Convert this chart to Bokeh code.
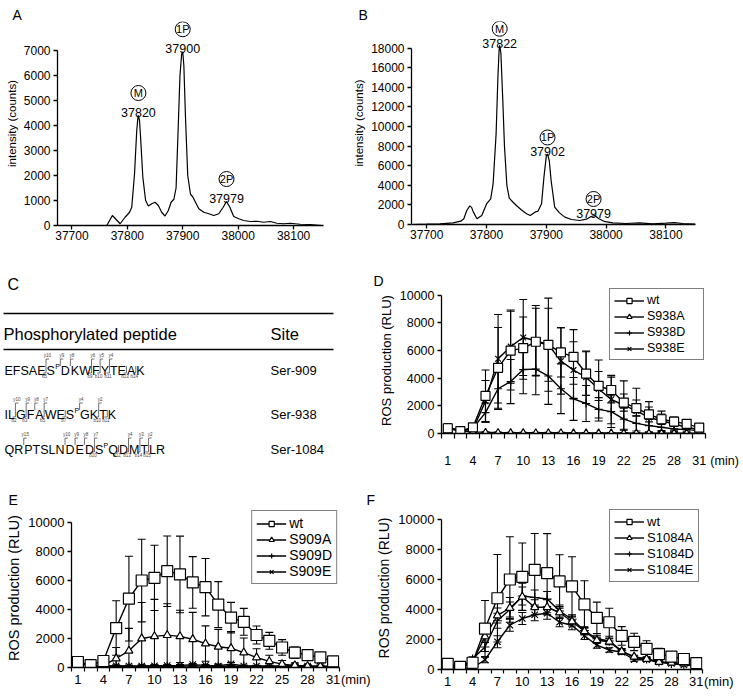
from bokeh.plotting import figure
from bokeh.layouts import column, row
from bokeh.models import Range1d, FixedTicker, SingleIntervalTicker, Legend, LegendItem
from bokeh.core.properties import value
from bokeh.embed import file_html
from bokeh.resources import INLINE

FONT = "Liberation Sans"

# ---------------- Panel A / B : deconvoluted mass spectra ----------------
massA = [37763, 37773, 37787, 37796, 37804, 37808, 37813, 37817, 37819, 37820, 37822, 37824, 37828, 37833,
         37838, 37844, 37850, 37856, 37862, 37868, 37874, 37879, 37884, 37888, 37891, 37895, 37898, 37900,
         37902, 37905, 37909, 37914, 37918, 37923, 37929, 37938, 37947, 37956, 37965, 37973, 37979, 37985,
         37992, 38001, 38010, 38022, 38034, 38046, 38058, 38070, 38082, 38094, 38112, 38130, 38151]
countsA = [0, 400, 70, 330, 530, 730, 2070, 3800, 4300, 4400, 4200, 3500, 1930, 1000,
           780, 870, 930, 800, 530, 380, 600, 930, 1050, 1500, 3400, 6000, 6850, 6950,
           6400, 4300, 2000, 1250, 1150, 930, 670, 530, 470, 400, 470, 730, 960, 730,
           360, 270, 200, 160, 170, 130, 160, 90, 70, 90, 50, 40, 0]
peakA_mass = [37820, 37900, 37979]
peakA_height = [4400, 6950, 960]
peakA_label = ["37820", "37900", "37979"]

massB = [37675, 37700, 37722, 37744, 37757, 37762, 37767, 37772, 37775, 37778, 37784, 37792, 37800, 37807,
         37811, 37816, 37819, 37821, 37822, 37824, 37827, 37830, 37834, 37838, 37844, 37850, 37858, 37867,
         37873, 37881, 37886, 37892, 37896, 37900, 37902, 37905, 37908, 37914, 37922, 37931, 37942, 37956,
         37967, 37975, 37981, 37988, 37997, 38011, 38033, 38056, 38078, 38100, 38114, 38128, 38149]
countsB = [0, 30, 70, 170, 340, 580, 1430, 1900, 1750, 1260, 580, 920, 2100, 2620,
           4150, 9250, 15000, 17800, 18300, 17500, 13000, 8000, 4000, 2700, 2300, 1940, 1500, 1090,
           920, 1260, 1360, 2110, 4830, 7000, 7200, 6500, 4490, 1770, 1190, 750, 510, 410,
           540, 820, 920, 580, 310, 170, 100, 170, 70, 140, 200, 100, 30]
peakB_mass = [37822, 37902, 37979]
peakB_height = [18300, 7200, 920]
peakB_label = ["37822", "37902", "37979"]

peak_tags = ["M", "1P", "2P"]
panel_letters = ["A", "B", "C", "D", "E", "F"]

# ---------------- Panel C : peptides ----------------
peptides = ["EFSAESDKWFYTEAK", "ILGFAWESGKTK", "QRPTSLNDEDSQDMTLR"]
phospho_pos = [6, 8, 11]
y_ions = [[10, 9, 8, 6, 5, 4], [10, 9, 8, 7, 4, 2], [15, 10, 9, 8, 7, 4, 3, 2]]
b_ions = [[5, 9, 10, 11, 13, 14], [2, 3, 5, 7, 10, 11], [10, 12, 13, 14, 15]]
sites = ["Ser-909", "Ser-938", "Ser-1084"]

# ---------------- Panels D/E/F : ROS production ----------------
times = [1, 2.5, 4, 5.5, 7, 8.5, 10, 11.5, 13, 14.5, 16, 17.5, 19, 20.5, 22, 23.5, 25, 26.5, 28, 29.5, 31]
tick_times = [1, 4, 7, 10, 13, 16, 19, 22, 25, 28, 31]

wt = [380, 170, 450, 2720, 4750, 6000, 6180, 6640, 6420, 5870, 5540, 4340, 3440, 3150, 2240, 1840, 1380, 1030, 860, 700, 420]
wt_err = [250, 60, 120, 1880, 2920, 2850, 2250, 2430, 2640, 1780, 1980, 1580, 1050, 930, 620, 580, 540, 380, 250, 180, 80]

s938a = [420, 180, 120, 90, 70, 60, 60, 50, 50, 50, 40, 40, 40, 40, 40, 30, 30, 30, 30, 30, 30]
s938a_err = [300, 60, 40, 40, 40, 30, 30, 30, 30, 30, 20, 20, 20, 20, 20, 20, 20, 20, 20, 20, 20]
s938d = [450, 210, 380, 1510, 3240, 3760, 4630, 4660, 4160, 3240, 2500, 2170, 1750, 1580, 1040, 730, 570, 450, 330, 280, 210]
s938d_err = [200, 60, 100, 700, 1500, 1600, 1750, 1850, 2050, 1800, 1550, 1300, 850, 1150, 800, 550, 450, 300, 200, 150, 100]
s938e = [400, 200, 300, 2340, 5410, 6290, 6950, 6710, 6430, 5250, 4590, 4070, 3220, 2460, 2060, 1630, 1160, 920, 690, 450, 280]
s938e_err = [200, 60, 120, 1500, 3200, 2650, 2750, 2550, 3370, 2400, 2050, 1900, 2100, 1750, 1750, 1650, 1150, 700, 500, 450, 300]

s909a = [300, 150, 150, 620, 1150, 2000, 2150, 2230, 2150, 1950, 1650, 1430, 1330, 1030, 690, 420, 230, 150, 100, 90, 80]
s909a_err = [100, 50, 80, 760, 1550, 2480, 2550, 2170, 1800, 1850, 1220, 1200, 1150, 1000, 600, 420, 250, 150, 100, 80, 60]
s909d = [300, 100, 80, 80, 70, 80, 80, 80, 80, 120, 80, 80, 100, 80, 70, 60, 60, 60, 50, 50, 50]
s909d_err = [150, 50, 40, 60, 80, 100, 100, 100, 100, 100, 80, 80, 100, 80, 60, 50, 50, 50, 40, 40, 40]
s909e = [320, 120, 100, 120, 100, 100, 120, 130, 150, 200, 150, 100, 250, 100, 100, 100, 100, 150, 100, 80, 80]
s909e_err = [120, 50, 40, 60, 60, 60, 60, 60, 60, 80, 60, 60, 100, 60, 50, 50, 50, 60, 40, 40, 40]

s1084a = [250, 100, 500, 2200, 3600, 4100, 4850, 4150, 4150, 3800, 3200, 2550, 1950, 1850, 1200, 850, 700, 500, 450, 400, 300]
s1084a_err = [80, 40, 100, 300, 500, 700, 900, 500, 500, 400, 300, 250, 200, 200, 150, 100, 80, 60, 50, 50, 40]
s1084d = [250, 100, 700, 1500, 3250, 4000, 4900, 4800, 4700, 3900, 3350, 2600, 2050, 1900, 1250, 800, 700, 500, 400, 350, 300]
s1084d_err = [80, 40, 150, 300, 500, 500, 600, 500, 500, 400, 300, 250, 200, 200, 150, 100, 80, 60, 50, 50, 40]
s1084e = [200, 80, 100, 650, 1850, 2950, 3400, 3650, 3750, 3150, 2950, 2250, 1620, 1300, 1150, 650, 650, 500, 400, 300, 250]
s1084e_err = [60, 30, 40, 200, 400, 400, 400, 400, 400, 300, 300, 250, 200, 150, 150, 100, 80, 60, 50, 50, 40]

# Arial / Liberation Sans advance widths (per 1000 em) for peptide layout
AW = {'A': 667, 'C': 722, 'D': 722, 'E': 667, 'F': 611, 'G': 778, 'H': 722, 'I': 278, 'K': 667, 'L': 556,
      'M': 833, 'N': 722, 'P': 667, 'Q': 778, 'R': 722, 'S': 667, 'T': 611, 'V': 667, 'W': 944, 'Y': 667}
NBSP = "\u00a0"


def base_fig(width, height, left, right, top, bottom, xr, yr):
    p = figure(width=width, height=height, x_range=Range1d(*xr), y_range=Range1d(*yr),
               output_backend="svg", toolbar_location=None, tools="",
               min_border_left=left, min_border_right=right, min_border_top=top, min_border_bottom=bottom)
    p.frame_align = False
    p.xgrid.visible = False
    p.ygrid.visible = False
    p.outline_line_color = None
    p.background_fill_color = "white"
    p.border_fill_color = "white"
    return p


def blank_fig(width, height):
    p = figure(width=width, height=height, x_range=Range1d(0, width), y_range=Range1d(0, height),
               x_axis_type=None, y_axis_type=None, title=None, min_border=0, min_border_left=0,
               min_border_right=0, min_border_top=0, min_border_bottom=0, output_backend="svg",
               toolbar_location=None, tools="")
    p.frame_align = False
    p.outline_line_color = None
    return p


def style_axis(ax, tick_fs, label_fs=None):
    ax.axis_line_color = "black"
    ax.axis_line_width = 1.3
    ax.major_tick_line_color = "black"
    ax.major_tick_line_width = 1.3
    ax.major_tick_in = 0
    ax.major_tick_out = 4
    ax.minor_tick_line_color = None
    ax.major_label_text_font = FONT
    ax.major_label_text_font_size = tick_fs
    ax.major_label_text_color = "black"
    ax.axis_label_text_font = FONT
    ax.axis_label_text_font_style = "normal"
    ax.axis_label_text_color = "black"
    if label_fs:
        ax.axis_label_text_font_size = label_fs


def spectrum(width, height, left, right, top, bottom, xr, y_end, y_top_tick, y_step, mass, counts,
             pk_mass, pk_h, pk_lab, text_off, circ_off):
    p = base_fig(width, height, left, right, top, bottom, xr, (0, y_end))
    p.line(mass, counts, line_color="black", line_width=1.2)
    frame_h = height - top - bottom
    per_px = y_end / frame_h
    circ_y = [h + circ_off * per_px for h in pk_h]
    p.text(x=pk_mass, y=pk_h, text=pk_lab, text_align="center", text_baseline="alphabetic", y_offset=-text_off,
           text_font=value(FONT), text_font_size="12.5px", text_color="black")
    p.scatter(x=pk_mass, y=circ_y, marker="circle", size=15, fill_color=None, line_color="black", line_width=1)
    p.text(x=pk_mass, y=circ_y, text=peak_tags, text_align="center", text_baseline="middle",
           text_font=value(FONT), text_font_size="11px", text_color="black")
    p.xaxis.ticker = SingleIntervalTicker(interval=100, num_minor_ticks=0)
    p.yaxis.ticker = SingleIntervalTicker(interval=y_step, num_minor_ticks=0)
    p.yaxis.bounds = (0, y_top_tick)
    style_axis(p.xaxis[0], "12px")
    style_axis(p.yaxis[0], "12px", "11.5px")
    p.xaxis.major_label_standoff = 1
    p.yaxis.major_label_standoff = 3
    p.yaxis.axis_label = "intensity (counts)"
    p.yaxis.axis_label_standoff = 3
    return p


def letters_fig(width, height, xs, base, texts):
    p = blank_fig(width, height)
    p.text(x=xs, y=[base] * len(xs), text=texts, text_font=value(FONT), text_font_size="14px",
           text_baseline="alphabetic", text_color="black")
    return p


# ---- Row 1 : header with letters (page y 0-21) + spectra (21-265)
hdr1 = letters_fig(743, 21, [12, 358], 7, panel_letters[0:2])
pA = spectrum(350, 244, 57, 27, 0, 40, (37674, 38154), 8160, 7000, 1000, massA, countsA,
              peakA_mass, peakA_height, peakA_label, 3, 22.5)
pB = spectrum(393, 244, 60, 48, 0, 41, (37674.5, 38149.5), 20725, 18000, 2000, massB, countsB,
              peakB_mass, peakB_height, peakB_label, 2, 16.5)

# ---- Panel C  (page x 0-372, y 265-470)
pC = blank_fig(372, 205)
pC.text(x=[7], y=[186], text=[panel_letters[2]], text_font=value(FONT), text_font_size="16px",
        text_baseline="alphabetic")
pC.segment(x0=[3, 3], y0=[157, 121], x1=[333, 333], y1=[157, 121], line_color="black", line_width=1.6)
pC.text(x=[3], y=[137], text=["Phosphorylated peptide"], text_font=value(FONT), text_font_size="16.5px",
        text_baseline="middle")
pC.text(x=[270], y=[137], text=["Site"], text_font=value(FONT), text_font_size="16.5px", text_baseline="middle")

row_base = [100, 56, 21]
fs = 12.5
capH = 0.716 * fs
for seq, phos, yi, bi, site, base in zip(peptides, phospho_pos, y_ions, b_ions, sites, row_base):
    n = len(seq)
    ycut = {n - k: k for k in yi}
    bcut = {k: k for k in bi}
    xs, chars, sup_x = [], [], []
    br_xs, br_ys = [], []
    ylab_x, ylab_t, blab_x, blab_t = [], [], [], []
    cur = 4.0
    top = base + capH + 2.5
    bot = base - 2.5
    for i, ch in enumerate(seq, start=1):
        xs.append(cur)
        chars.append(ch)
        cur += AW[ch] * fs / 1000.0
        if i == phos:
            sup_x.append(cur + 0.3)
            cur += 5.0
        if i in ycut or i in bcut:
            bx = cur + 0.5
            px, py = [], []
            if i in ycut:
                px += [bx + 3, bx]
                py += [top, top]
                ylab_x.append(bx + 1.5)
                ylab_t.append("y%d" % ycut[i])
            else:
                px += [bx]
                py += [base + capH * 0.5]
            if i in bcut:
                px += [bx, bx - 3]
                py += [bot, bot]
                blab_x.append(bx - 1.5)
                blab_t.append("b%d" % bcut[i])
            else:
                px += [bx]
                py += [base + capH * 0.5]
            br_xs.append(px)
            br_ys.append(py)
            cur += 1.0
    pC.text(x=xs, y=[base] * n, text=chars, text_font=value(FONT), text_font_size="%.1fpx" % fs,
            text_baseline="alphabetic", text_align="left", text_color="black")
    pC.text(x=sup_x, y=[base + 4.5] * len(sup_x), text=["P"] * len(sup_x), text_font=value(FONT),
            text_font_size="7px", text_baseline="alphabetic", text_align="left", text_color="black")
    pC.multi_line(xs=br_xs, ys=br_ys, line_color="#333333", line_width=0.7)
    pC.text(x=ylab_x, y=[top + 1] * len(ylab_x), text=ylab_t, text_font=value(FONT), text_font_size="4.5px",
            text_baseline="bottom", text_align="center", text_color="#444444")
    pC.text(x=blab_x, y=[bot - 1] * len(blab_x), text=blab_t, text_font=value(FONT), text_font_size="4.5px",
            text_baseline="top", text_align="center", text_color="#444444")
    pC.text(x=[270], y=[base], text=[site], text_font=value(FONT), text_font_size="13px",
            text_baseline="alphabetic", text_align="left", text_color="black")


# ---------------- ROS panels ----------------
def ros_panel(width, height, left, right, top, bottom, y_end, series, tick_fs, label_fs, leg_fs,
              leg_label_w, leg_spacing, xlab_standoff, minor_out, n_pad, leg_margin):
    xr = (times[0] - 0.75, times[-1] + 0.75)
    p = base_fig(width, height, left, right, top, bottom, xr, (0, y_end))
    for name, y, err, marker, ms, fill in series:
        up = [a + b for a, b in zip(y, err)]
        lo = [a - b for a, b in zip(y, err)]
        p.segment(x0=times, y0=lo, x1=times, y1=up, line_color="black", line_width=1.1)
        p.scatter(x=times + times, y=up + lo, marker="dash", size=8, line_color="black", line_width=1.1)
    items = []
    for name, y, err, marker, ms, fill in reversed(series):
        ln = p.line(times, y, line_color="black", line_width=1.4)
        mk = p.scatter(times, y, marker=marker, size=ms, fill_color=fill, line_color="black", line_width=1.2)
        items.append(LegendItem(label=value(name), renderers=[ln, mk]))
    items.reverse()
    leg = Legend(items=items, location="top_right", border_line_color="black", border_line_width=1.3,
                 background_fill_color="white", background_fill_alpha=1.0,
                 label_text_font=FONT, label_text_font_size=leg_fs, label_text_color="black",
                 glyph_width=30, glyph_height=13, label_height=13, label_width=leg_label_w,
                 label_standoff=3, padding=4, spacing=leg_spacing, margin=leg_margin)
    p.add_layout(leg)
    # time labels plus the "(min)" unit placed just right of the axis end
    p.xaxis.ticker = FixedTicker(ticks=tick_times + [xr[1]],
                                 minor_ticks=[t - 0.75 for t in times] + [times[-1] + 0.75])
    p.xaxis.major_label_overrides = {xr[1]: NBSP * n_pad + "(min)"}
    p.yaxis.ticker = SingleIntervalTicker(interval=2000, num_minor_ticks=0)
    p.yaxis.bounds = (0, 10000)
    style_axis(p.xaxis[0], tick_fs)
    style_axis(p.yaxis[0], tick_fs, label_fs)
    p.xaxis.major_tick_line_color = None
    p.xaxis.major_tick_out = 0
    p.xaxis.minor_tick_line_color = "black"
    p.xaxis.minor_tick_line_width = 1.2
    p.xaxis.minor_tick_in = 0
    p.xaxis.minor_tick_out = minor_out
    p.xaxis.major_label_standoff = xlab_standoff
    p.yaxis.major_label_standoff = 3
    p.yaxis.axis_label = "ROS production (RLU)"
    p.yaxis.axis_label_standoff = 3
    return p


# ---- Row 2 right : header D (page y 265-287) + chart D (287-470), page x 372-743
hdrD = letters_fig(371, 22, [1], 7, [panel_letters[3]])
pD = ros_panel(371, 183, 69, 38, 0, 34, 10567,
               [("wt", wt, wt_err, "square", 9, "white"),
                ("S938A", s938a, s938a_err, "triangle", 7, "white"),
                ("S938D", s938d, s938d_err, "cross", 8, "black"),
                ("S938E", s938e, s938e_err, "x", 8, "black")],
               "12.5px", "13px", "12.5px", 52, 2, 15, 5, 11, 1)

# ---- Row 3 : header with E, F (page y 470-506) + charts (506-700)
hdr3 = letters_fig(743, 36, [8, 366], 7, panel_letters[4:6])
pE = ros_panel(372, 194, 71, 33, 2, 33, 10966,
               [("wt", wt, wt_err, "square", 11, "white"),
                ("S909A", s909a, s909a_err, "triangle", 8, "white"),
                ("S909D", s909d, s909d_err, "cross", 9, "black"),
                ("S909E", s909e, s909e_err, "x", 9, "black")],
               "13px", "14.5px", "14px", 40, 0, 0, 4, 9, 2)
pF = ros_panel(371, 194, 69, 41, 0, 31, 10867,
               [("wt", wt, wt_err, "square", 11, "white"),
                ("S1084A", s1084a, s1084a_err, "triangle", 8, "white"),
                ("S1084D", s1084d, s1084d_err, "cross", 9, "black"),
                ("S1084E", s1084e, s1084e_err, "x", 9, "black")],
               "13px", "14px", "13px", 40, 1, 0, 4, 9, 3)

layout = column(hdr1, row(pA, pB), row(pC, column(hdrD, pD)), hdr3, row(pE, pF))
open("out.html", "w").write(file_html(layout, INLINE))
